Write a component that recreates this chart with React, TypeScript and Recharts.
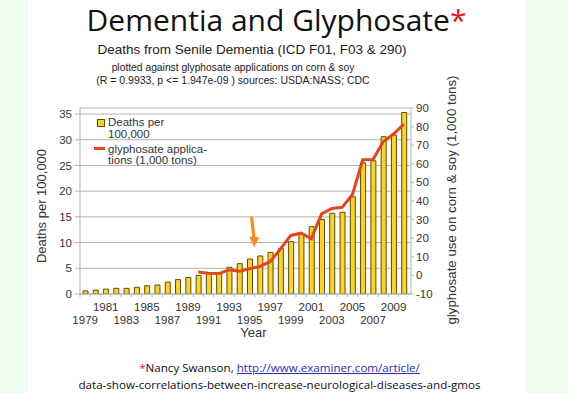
import React from 'react';
import {
  ComposedChart,
  Bar,
  Line,
  XAxis,
  YAxis,
  CartesianGrid,
  Legend,
  ReferenceDot,
} from 'recharts';

const years = [
  1979, 1980, 1981, 1982, 1983, 1984, 1985, 1986, 1987, 1988, 1989, 1990, 1991, 1992, 1993, 1994,
  1995, 1996, 1997, 1998, 1999, 2000, 2001, 2002, 2003, 2004, 2005, 2006, 2007, 2008, 2009, 2010,
];
const deathsPer100k = [
  0.6, 0.75, 0.95, 1.1, 1.1, 1.3, 1.6, 1.75, 2.3, 2.8, 3.2, 3.6, 4.0, 4.1, 5.2, 5.9,
  6.8, 7.4, 8.1, 8.8, 10.2, 11.6, 13.1, 14.5, 15.7, 15.9, 18.9, 25.5, 25.9, 30.6, 30.9, 35.3,
];
const glyphosateTons: (number | null)[] = [
  null, null, null, null, null, null, null, null, null, null, null, 1.8, 1.2, 1.0, 3.0, 2.3,
  3.6, 4.8, 7.5, 14.2, 21.5, 22.7, 19.8, 33.1, 36.0, 36.6, 43.5, 62.2, 62.3, 72.0, 76.0, 81.4,
];
const leftTicks = [0, 5, 10, 15, 20, 25, 30, 35];
const rightTicks = [-10, 0, 10, 20, 30, 40, 50, 60, 70, 80, 90];
const legendLabels: Record<string, string[]> = {
  deaths: ['Deaths per', '100,000'],
  glyphosate: ['glyphosate applica-', 'tions (1,000 tons)'],
};
const arrowYear = 1995;
const arrowValue = 9.1;

const data = years.map((year, i) => ({
  year,
  deaths: deathsPer100k[i],
  glyphosate: glyphosateTons[i],
}));

const FONT = '"Liberation Sans", Arial, sans-serif';
const TEXT = '#333333';
const GRID = '#b3b3b3';
const BAR_FILL = '#ffd320';
const BAR_STROKE = '#5c4a14';
const LINE = '#e2461c';
const ARROW = '#ff8a1c';

const XTick = (props: any) => {
  const { x, y, payload } = props;
  const year = Number(payload.value);
  const labelled = year % 2 === 1;
  const upper = ((year - 1979) / 2) % 2 === 1;
  return (
    <g>
      <line x1={x - 5.14} x2={x - 5.14} y1={y} y2={y + 3} stroke={GRID} />
      {labelled && (
        <text
          x={x}
          y={y + (upper ? 17 : 29.5)}
          textAnchor="middle"
          fontSize={11.5}
          fontFamily={FONT}
          fill={TEXT}
        >
          {year}
        </text>
      )}
    </g>
  );
};

const LegendBox = (props: any) => {
  const payload = props.payload || [];
  const bar = payload.find((p: any) => p.dataKey === 'deaths');
  const line = payload.find((p: any) => p.dataKey === 'glyphosate');
  return (
    <div style={{ position: 'relative', width: 130, height: 56, fontFamily: FONT, fontSize: 11.5, color: TEXT, lineHeight: '11.5px' }}>
      {bar && (
        <>
          <div style={{ position: 'absolute', left: 3, top: 3, width: 6, height: 6, background: BAR_FILL, border: `1px solid ${BAR_STROKE}` }} />
          <div style={{ position: 'absolute', left: 14, top: 1, whiteSpace: 'nowrap' }}>
            {legendLabels.deaths[0]}<br />{legendLabels.deaths[1]}
          </div>
        </>
      )}
      {line && (
        <>
          <div style={{ position: 'absolute', left: 0, top: 30.5, width: 11, height: 3, background: LINE }} />
          <div style={{ position: 'absolute', left: 14, top: 27.5, whiteSpace: 'nowrap' }}>
            {legendLabels.glyphosate[0]}<br />{legendLabels.glyphosate[1]}
          </div>
        </>
      )}
    </div>
  );
};

const ArrowShape = (props: any) => {
  const { cx, cy } = props;
  if (cx == null || cy == null) return <g />;
  const tx = cx + 4.6;
  return (
    <g>
      <line x1={cx + 2} y1={cy - 29} x2={tx - 0.2} y2={cy - 9} stroke={ARROW} strokeWidth={3.2} strokeLinecap="round" />
      <polygon points={`${tx - 5},${cy - 10.5} ${tx + 5},${cy - 10} ${tx},${cy}`} fill={ARROW} />
    </g>
  );
};

export default function App() {
  return (
    <div style={{ position: 'absolute', left: 0, top: 0, width: 568, height: 393, background: '#f1fdf1', overflow: 'hidden' }}>
      <div style={{ position: 'absolute', left: 28, top: 0, width: 497, height: 393, background: '#ffffff' }} />
      <div style={{ position: 'absolute', left: 28, top: 0, width: 497, textAlign: 'center', fontFamily: '"Open Sans", sans-serif', fontSize: 30, lineHeight: '40px', color: '#111' }}>
        Dementia and Glyphosate<span style={{ color: '#e3151b' }}>*</span>
      </div>
      <div style={{ position: 'absolute', left: 52, top: 42, width: 400, textAlign: 'center', fontFamily: FONT, fontSize: 13.5, lineHeight: '16px', color: '#222' }}>
        Deaths from Senile Dementia (ICD F01, F03 &amp; 290)
      </div>
      <div style={{ position: 'absolute', left: 33, top: 60.5, width: 400, textAlign: 'center', fontFamily: FONT, fontSize: 10.3, lineHeight: '13px', color: '#222' }}>
        plotted against glyphosate applications on corn &amp; soy
      </div>
      <div style={{ position: 'absolute', left: 33, top: 73.5, width: 400, textAlign: 'center', fontFamily: FONT, fontSize: 10.5, lineHeight: '13px', color: '#222' }}>
        (R = 0.9933, p &lt;= 1.947e-09 ) sources: USDA:NASS; CDC
      </div>
      <div style={{ position: 'absolute', left: 42 - 100, top: 206 - 8, width: 200, height: 16, lineHeight: '16px', textAlign: 'center', transform: 'rotate(-90deg)', fontFamily: FONT, fontSize: 13, color: TEXT }}>
        Deaths per 100,000
      </div>
      <div style={{ position: 'absolute', left: 452 - 150, top: 200 - 8, width: 300, height: 16, lineHeight: '16px', textAlign: 'center', transform: 'rotate(-90deg)', fontFamily: FONT, fontSize: 13.3, color: TEXT }}>
        glyphosate use on corn &amp; soy (1,000 tons)
      </div>
      <div style={{ position: 'absolute', left: 31, top: 359, width: 497, textAlign: 'center', fontFamily: '"Open Sans", sans-serif', fontSize: 11.6, lineHeight: '17px', color: '#111' }}>
        <span style={{ color: '#e3151b' }}>*</span>Nancy Swanson,{' '}
        <span style={{ color: '#2b2bb0', textDecoration: 'underline' }}>http://www.examiner.com/article/</span>
        <br />
        data-show-correlations-between-increase-neurological-diseases-and-gmos
      </div>
      <div style={{ position: 'absolute', left: 0, top: 0 }}>
        <ComposedChart
          width={568}
          height={393}
          data={data}
          margin={{ top: 108, right: 117, bottom: 55, left: 40 }}
          barCategoryGap="40%"
        >
          <CartesianGrid yAxisId="left" vertical={false} stroke={GRID} />
          <XAxis
            dataKey="year"
            type="category"
            interval={0}
            height={44}
            tickSize={0}
            tickMargin={0}
            tickLine={false}
            tick={<XTick />}
            axisLine={{ stroke: GRID }}
            padding={{ left: 0, right: 2 }}
            label={{ value: 'Year', position: 'insideBottom', offset: 1, dx: 8, fill: TEXT, fontSize: 13, fontFamily: FONT }}
          />
          <YAxis
            yAxisId="left"
            orientation="left"
            width={40}
            domain={[0, 36.17]}
            ticks={leftTicks}
            interval={0}
            tickSize={5}
            tickMargin={3}
            axisLine={{ stroke: GRID }}
            tickLine={{ stroke: GRID }}
            tick={{ fill: TEXT, fontSize: 11.5, fontFamily: FONT }}
            allowDataOverflow
          />
          <YAxis
            yAxisId="right"
            orientation="right"
            width={40}
            domain={[-10, 90]}
            ticks={rightTicks}
            interval={0}
            tickSize={3}
            tickMargin={2}
            axisLine={{ stroke: GRID }}
            tickLine={{ stroke: GRID }}
            tick={{ fill: TEXT, fontSize: 11.5, fontFamily: FONT }}
            allowDataOverflow
          />
          <Legend
            layout="vertical"
            align="center"
            verticalAlign="middle"
            content={<LegendBox />}
            wrapperStyle={{ left: 94, top: 116, width: 130, height: 56 }}
          />
          <Bar
            yAxisId="left"
            dataKey="deaths"
            name="Deaths per 100,000"
            barSize={5}
            fill={BAR_FILL}
            stroke={BAR_STROKE}
            strokeWidth={1}
            isAnimationActive={false}
          />
          <Line
            yAxisId="right"
            dataKey="glyphosate"
            name="glyphosate applications (1,000 tons)"
            type="linear"
            stroke={LINE}
            strokeWidth={3}
            dot={false}
            activeDot={false}
            isAnimationActive={false}
          />
          <ReferenceDot
            yAxisId="left"
            x={arrowYear}
            y={arrowValue}
            r={0}
            shape={<ArrowShape />}
          />
        </ComposedChart>
      </div>
    </div>
  );
}
